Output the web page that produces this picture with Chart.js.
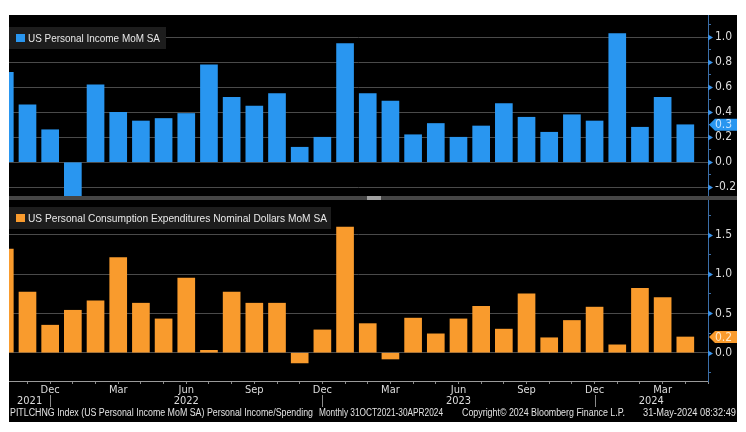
<!DOCTYPE html>
<html><head><meta charset="utf-8">
<script src="https://cdn.jsdelivr.net/npm/chart.js@4.4.1/dist/chart.umd.min.js"></script>
<style>
html,body{margin:0;padding:0;background:#fff;width:746px;height:432px;overflow:hidden}
#panel{position:absolute;left:9px;top:15px;width:728px;height:407px;background:#000;overflow:hidden}
#c1{position:absolute;left:0;top:0}
#sep{position:absolute;left:0;top:181px;width:728px;height:4px;background:#454545}
#handle{position:absolute;left:358px;top:0;width:14px;height:4px;background:#a0a0a0}
#c2{position:absolute;left:0;top:185px}
.ft{position:absolute;top:392px;font:10px "Liberation Sans",Arial,sans-serif;color:#e2e2e2;white-space:pre;display:inline-block;transform-origin:0 50%;line-height:12px}
</style></head>
<body>
<div id="panel">
  <canvas id="c1" width="728" height="181"></canvas>
  <div id="sep"><div id="handle"></div></div>
  <canvas id="c2" width="728" height="222"></canvas>
  <span class="ft" data-x="1" data-w="303">PITLCHNG Index (US Personal Income MoM SA) Personal Income/Spending</span>
  <span class="ft" data-x="310" data-w="124">Monthly 31OCT2021-30APR2024</span>
  <span class="ft" data-x="453" data-w="163">Copyright© 2024 Bloomberg Finance L.P.</span>
  <span class="ft" data-x="634" data-w="93">31-May-2024 08:32:49</span>
</div>
<script>
// ---------- data ----------
const MONTHS = ['Oct 2021','Nov 2021','Dec 2021',
  'Jan 2022','Feb 2022','Mar 2022','Apr 2022','May 2022','Jun 2022','Jul 2022','Aug 2022','Sep 2022','Oct 2022','Nov 2022','Dec 2022',
  'Jan 2023','Feb 2023','Mar 2023','Apr 2023','May 2023','Jun 2023','Jul 2023','Aug 2023','Sep 2023','Oct 2023','Nov 2023','Dec 2023',
  'Jan 2024','Feb 2024','Mar 2024','Apr 2024'];
const INCOME_MOM = [0.72,0.46,0.26,-0.27,0.62,0.40,0.33,0.35,0.39,0.78,0.52,0.45,0.55,0.12,0.20,
  0.95,0.55,0.49,0.22,0.31,0.20,0.29,0.47,0.36,0.24,0.38,0.33,1.03,0.28,0.52,0.30];
const PCE_MOM = [1.32,0.77,0.35,0.54,0.66,1.21,0.63,0.43,0.95,0.03,0.77,0.63,0.63,-0.13,0.29,
  1.60,0.37,-0.08,0.44,0.24,0.43,0.59,0.30,0.75,0.19,0.41,0.58,0.10,0.82,0.70,0.20];
const QUARTER_LABELS = ['Mar','Jun','Sep','Dec'];
const INCOME_NAME = 'US Personal Income MoM SA';
const PCE_NAME = 'US Personal Consumption Expenditures Nominal Dollars MoM SA';

// ---------- axis ranges ----------
const X_MIN = 0.185, X_MAX = MONTHS.length;
const MON = ['Jan','Feb','Mar','Apr','May','Jun','Jul','Aug','Sep','Oct','Nov','Dec'];

// ---------- styles ----------
const BLUE = '#2996f0', ORANGE = '#f99b2d';
const GRID = '#4a4a4a', AXIS_BLUE = '#3a6ea8', ARROW_BLUE = '#3b93ea';
const TXT = '#dcdcdc';
const NARROW = '"Liberation Sans Narrow","DejaVu Sans Condensed","Liberation Sans",Arial,sans-serif';

function yAxis(min, max, step, isMajor) {
  return {
    position: 'right', min, max,
    border: {display: true, color: AXIS_BLUE, width: 1},
    grid: {
      color: c => isMajor(c.tick.value) ? GRID : 'rgba(0,0,0,0)',
      tickColor: AXIS_BLUE, tickLength: 3, drawTicks: true
    },
    ticks: {
      stepSize: step, autoSkip: false, includeBounds: false, padding: 4,
      color: TXT, font: {family: NARROW, size: 12},
      callback: v => isMajor(v) ? Number(v).toFixed(1) : ''
    },
    afterFit: s => { s.width = 29; s.paddingTop = 0; s.paddingBottom = 0; }
  };
}

function xAxis(show) {
  return {
    type: 'linear', min: X_MIN, max: X_MAX, display: show, offset: false,
    border: {display: true, color: '#9a9a9a', width: 1},
    grid: {drawOnChartArea: false, color: '#8a8a8a', tickLength: 3, offset: false},
    ticks: {
      stepSize: 1, autoSkip: false, includeBounds: false, maxRotation: 0, minRotation: 0, padding: 0,
      color: TXT, font: {family: NARROW, size: 11},
      callback: v => {
        const m = MONTHS[v];
        if (!m) return '';
        const n = m.split(' ')[0];
        return QUARTER_LABELS.includes(n) ? n : '';
      }
    },
    afterFit: s => { if (show) s.height = 41; s.paddingLeft = 0; s.paddingRight = 0; }
  };
}

function yearSpans() {
  const out = [];
  const seen = {};
  MONTHS.forEach((m, i) => {
    const [mn, yr] = m.split(' ');
    if (seen[yr] !== undefined) return;
    const start = i - MON.indexOf(mn) - 1; // month-end coordinate of previous Dec
    seen[yr] = start;
    out.push({year: yr, start, end: start + 12});
  });
  return out;
}

const decor = {
  id: 'decor',
  afterDatasetsDraw(chart, args, o) {
    const {ctx, chartArea: a} = chart;
    ctx.save();
    ctx.fillStyle = '#1d1d1d';
    ctx.fillRect(a.left, o.boxTop, o.boxWidth, o.boxHeight);
    ctx.fillStyle = o.color;
    ctx.fillRect(a.left + 7, o.boxTop + o.boxHeight / 2 - 4, 9, 8);
    ctx.fillStyle = '#e8e8e8';
    ctx.font = '11.5px "Liberation Sans",Arial,sans-serif';
    ctx.textBaseline = 'middle';
    ctx.textAlign = 'left';
    ctx.fillText(o.label, a.left + 19, o.boxTop + o.boxHeight / 2 + 0.5, o.textWidth);
    ctx.restore();
  },
  afterDraw(chart, args, o) {
    const {ctx, chartArea: a} = chart;
    const ys = chart.scales.y;
    ctx.save();
    // arrow markers at major ticks
    ctx.fillStyle = ARROW_BLUE;
    ys.ticks.forEach(t => {
      if (!o.isMajor(t.value)) return;
      const y = Math.round(ys.getPixelForValue(t.value)) + 0.5;
      ctx.beginPath();
      ctx.moveTo(a.right, y - 3);
      ctx.lineTo(a.right + 5, y);
      ctx.lineTo(a.right, y + 3);
      ctx.closePath();
      ctx.fill();
    });
    // last value tag
    const data = chart.data.datasets[0].data;
    const last = data[data.length - 1].y;
    const ty = ys.getPixelForValue(last);
    const x0 = a.right + 1, right = chart.width;
    ctx.fillStyle = o.color;
    ctx.beginPath();
    ctx.moveTo(x0, ty);
    ctx.lineTo(x0 + 6, ty - 6);
    ctx.lineTo(right, ty - 6);
    ctx.lineTo(right, ty + 6);
    ctx.lineTo(x0 + 6, ty + 6);
    ctx.closePath();
    ctx.fill();
    ctx.fillStyle = o.tagText;
    ctx.font = '12px ' + NARROW;
    ctx.textBaseline = 'middle';
    ctx.textAlign = 'left';
    ctx.fillText(last.toFixed(1), a.right + 7, ty + 0.5);
    // years row
    if (o.years) {
      const xs = chart.scales.x;
      ctx.font = '11px ' + NARROW;
      ctx.fillStyle = TXT;
      ctx.textAlign = 'center';
      ctx.strokeStyle = '#8a8a8a';
      ctx.lineWidth = 1;
      yearSpans().forEach(s => {
        const lo = Math.max(s.start, X_MIN), hi = Math.min(s.end, X_MAX);
        if (hi <= lo) return;
        ctx.fillText(s.year, xs.getPixelForValue((lo + hi) / 2), a.bottom + 20);
        if (s.end > X_MIN && s.end < X_MAX) {
          const x = Math.round(xs.getPixelForValue(s.end)) + 0.5;
          ctx.beginPath();
          ctx.moveTo(x, a.bottom + 14);
          ctx.lineTo(x, a.bottom + 26);
          ctx.stroke();
        }
      });
    }
    ctx.restore();
  }
};

function makeChart(id, values, color, label, yopts, isMajor, showX, box, tagText) {
  return new Chart(document.getElementById(id), {
    type: 'bar',
    data: {datasets: [{
      label,
      data: values.map((v, i) => ({x: i, y: v})),
      backgroundColor: color, borderWidth: 0, barThickness: 17, clip: 0
    }]},
    options: {
      responsive: false, animation: false, devicePixelRatio: 1,
      layout: {padding: 0},
      scales: {x: xAxis(showX), y: yopts},
      plugins: {
        legend: {display: false}, tooltip: {enabled: false},
        decor: Object.assign({color, label, isMajor, years: showX, tagText}, box)
      }
    },
    plugins: [decor]
  });
}

const major1 = v => Math.abs(Math.round(v * 10)) % 2 === 0;
const major2 = v => Math.abs(Math.round(v * 4)) % 2 === 0;

makeChart('c1', INCOME_MOM, BLUE, INCOME_NAME, yAxis(-0.27, 1.178, 0.1, major1), major1, false,
  {boxTop: 12, boxHeight: 22, boxWidth: 157, textWidth: 132}, '#c4e2ff');
makeChart('c2', PCE_MOM, ORANGE, PCE_NAME, yAxis(-0.36, 1.943, 0.25, major2), major2, true,
  {boxTop: 7, boxHeight: 22, boxWidth: 322, textWidth: 299}, '#ffe7c9');

// fit footer texts
document.querySelectorAll('.ft').forEach(el => {
  el.style.left = el.dataset.x + 'px';
  const w = el.getBoundingClientRect().width;
  el.style.transform = 'scaleX(' + (Number(el.dataset.w) / w) + ')';
});
</script>
</body></html>
